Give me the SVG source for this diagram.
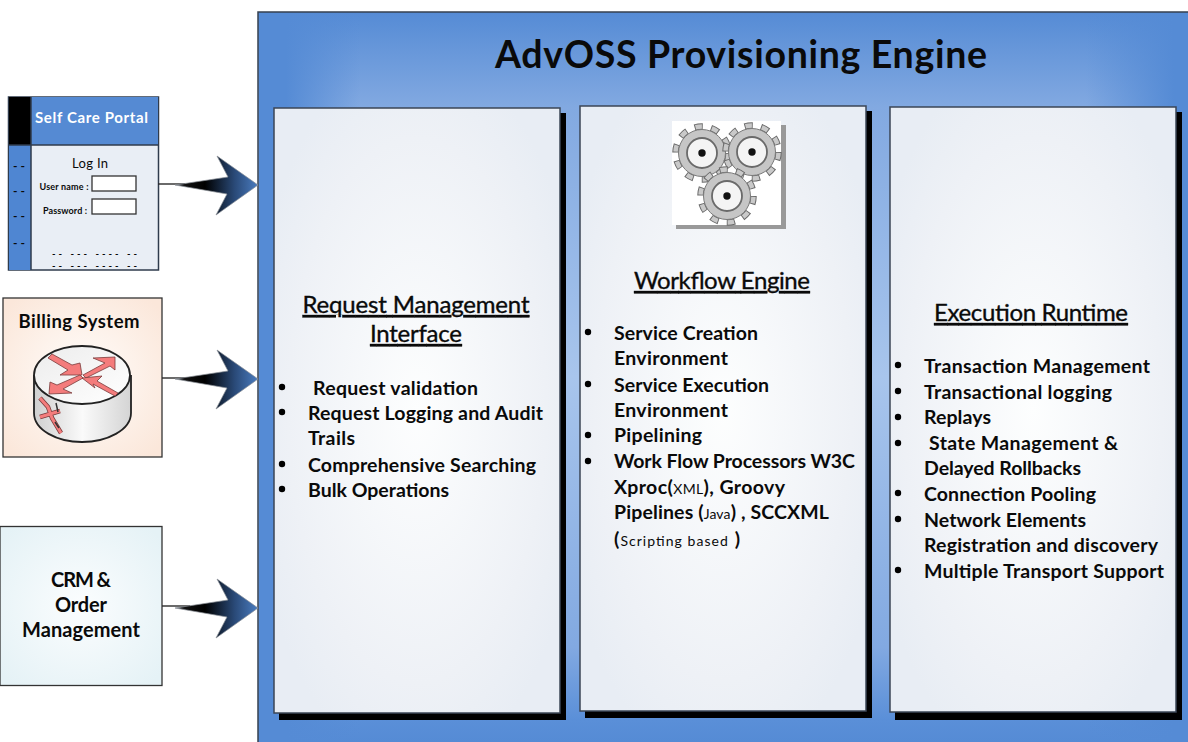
<svg xmlns="http://www.w3.org/2000/svg" width="1188" height="742" viewBox="0 0 1188 742">
<style>
text{font-family:"Lato","Liberation Sans",sans-serif;font-weight:700;fill:#0a0a0a}
.b{font-size:19.5px}
.h{font-size:24px;text-decoration:underline;text-anchor:middle;font-weight:400;stroke:#0a0a0a;stroke-width:.35}
.n{font-size:20px;text-anchor:middle}
.r{font-weight:400}
.edge{fill:none;stroke:#2f3b4c;stroke-width:1.5}
.panel{stroke:#3b4656;stroke-width:1.5}
.shadow{fill:#000}
.arrow{fill:url(#ag);stroke:#8a8f96;stroke-width:.7}
.wire{stroke:#2a2a2a;stroke-width:1.4;fill:none}
.tick{font-size:12px;font-weight:700}
.tick2{font-size:9.5px;font-weight:700}
.small{font-size:9px;text-anchor:middle;font-weight:700}
.input{fill:#fff;stroke:#333;stroke-width:1.3}
.rarrow{fill:#f47c7c;stroke:#7a3b3b;stroke-width:.8}
</style>
<defs>
<linearGradient id="outerV" gradientUnits="userSpaceOnUse" x1="0" x2="0" y1="12" y2="742"><stop offset="0" stop-color="#558bd5"/><stop offset=".13" stop-color="#82a9e1"/><stop offset=".5" stop-color="#a8c5ec"/><stop offset=".87" stop-color="#82a9e1"/><stop offset=".97" stop-color="#5a8fd8"/><stop offset="1" stop-color="#558bd5"/></linearGradient>
<linearGradient id="outerH" gradientUnits="userSpaceOnUse" x1="258" x2="1188" y1="0" y2="0"><stop offset="0" stop-color="#558bd5"/><stop offset=".03" stop-color="#558bd5"/><stop offset=".11" stop-color="#558bd5" stop-opacity="0"/><stop offset=".89" stop-color="#558bd5" stop-opacity="0"/><stop offset=".985" stop-color="#558bd5"/><stop offset="1" stop-color="#558bd5"/></linearGradient>
<radialGradient id="pg" cx=".5" cy=".5" r=".6"><stop offset="0" stop-color="#fdfefe"/><stop offset=".75" stop-color="#eef1f6"/><stop offset="1" stop-color="#e8edf4"/></radialGradient>
<radialGradient id="bill" cx=".5" cy=".5" r=".65"><stop offset="0" stop-color="#fffdfb"/><stop offset="1" stop-color="#fbe7da"/></radialGradient>
<radialGradient id="crm" cx=".5" cy=".5" r=".65"><stop offset="0" stop-color="#fbfdfe"/><stop offset="1" stop-color="#e5f2f6"/></radialGradient>
<linearGradient id="ag" x1="0" x2="1" y1="0" y2="0"><stop offset="0" stop-color="#6b7078"/><stop offset=".12" stop-color="#111"/><stop offset=".36" stop-color="#000"/><stop offset=".72" stop-color="#2a4a78"/><stop offset="1" stop-color="#4a7cc0"/></linearGradient>
<linearGradient id="cyl" x1="0" x2="1" y1="0" y2="0"><stop offset="0" stop-color="#cfcfcf"/><stop offset=".5" stop-color="#fafafa"/><stop offset="1" stop-color="#d4d4d4"/></linearGradient>
<linearGradient id="top" x1="0" x2="1" y1="0" y2="1"><stop offset="0" stop-color="#ececec"/><stop offset="1" stop-color="#fff"/></linearGradient>
<path id="arrowShape" class="arrow" d="M175 0 L228 -8 L217 -29 L258 0 L216 30 L227 9 Z"/>
<g id="gear">
<circle r="26.500" fill="none" stroke="#6a6a6a" stroke-width="6.500" stroke-dasharray="8.300 8.350"/>
<circle r="26.500" fill="none" stroke="#c9c9c9" stroke-width="4.500" stroke-dasharray="6.500 10.150" stroke-dashoffset="-.9"/>
<circle r="23.500" fill="#c6c6c6" stroke="#7a7a7a" stroke-width="1"/>
<circle r="15" fill="#f4f4f4" stroke="#6a6a6a" stroke-width="1.800"/>
<circle r="3.700" fill="#111"/>
</g>
</defs>

<g id="engine">
<rect x="258" y="12" width="940" height="740" fill="url(#outerV)" stroke="#36404f" stroke-width="1.500"/>
<rect x="259" y="13" width="929" height="729" fill="url(#outerH)"/>
<text x="741" y="68" style="font-size:37.500px;text-anchor:middle" textLength="492">AdvOSS Provisioning Engine</text>
</g>

<g id="request-management">
<rect class="shadow" x="279" y="113" width="287" height="607"/>
<rect class="panel" x="274" y="108" width="286" height="605" fill="url(#pg)"/>
<text class="h" x="416" y="313" textLength="227">Request Management</text>
<text class="h" x="416" y="342" textLength="92">Interface</text>
<circle cx="282" cy="387" r="3.200"/><circle cx="282" cy="412" r="3.200"/><circle cx="282" cy="464" r="3.200"/><circle cx="282" cy="489" r="3.200"/>
<text class="b" x="313" y="395" textLength="165">Request validation</text>
<text class="b" x="308" y="420" textLength="235">Request Logging and Audit</text>
<text class="b" x="308" y="445" textLength="47">Trails</text>
<text class="b" x="308" y="472" textLength="228">Comprehensive Searching</text>
<text class="b" x="308" y="497" textLength="141">Bulk Operations</text>
</g>

<g id="workflow-engine">
<rect class="shadow" x="585" y="111" width="287" height="607"/>
<rect class="panel" x="580" y="106" width="286" height="605" fill="url(#pg)"/>
<rect x="676" y="125" width="110" height="104" fill="#999"/>
<rect x="672" y="121" width="109" height="104" fill="#fff"/>
<use href="#gear" x="702" y="153"/>
<use href="#gear" x="752" y="152"/>
<use href="#gear" x="727" y="196"/>
<text class="h" x="722" y="289" textLength="176">Workflow Engine</text>
<circle cx="588" cy="332" r="3.200"/><circle cx="588" cy="384" r="3.200"/><circle cx="588" cy="435" r="3.200"/><circle cx="588" cy="461" r="3.200"/>
<text class="b" x="614" y="340" textLength="144">Service Creation</text>
<text class="b" x="614" y="365" textLength="114">Environment</text>
<text class="b" x="614" y="392" textLength="155">Service Execution</text>
<text class="b" x="614" y="417" textLength="114">Environment</text>
<text class="b" x="614" y="442" textLength="88">Pipelining</text>
<text class="b" x="614" y="468" textLength="241">Work Flow Processors W3C</text>
<text class="b" x="614" y="494" textLength="171">Xproc(<tspan class="r" style="font-size:14px">XML</tspan>), Groovy</text>
<text class="b" x="614" y="519" textLength="215">Pipelines (<tspan class="r" style="font-size:14px">Java</tspan>) , SCCXML</text>
<text class="b" x="614" y="546" textLength="126">(<tspan class="r" style="font-size:14px">Scripting based</tspan> )</text>
</g>

<g id="execution-runtime">
<rect class="shadow" x="895" y="112" width="287" height="608"/>
<rect class="panel" x="890" y="107" width="286" height="605" fill="url(#pg)"/>
<text class="h" x="1031" y="321" textLength="194">Execution Runtime</text>
<circle cx="898" cy="365" r="3.200"/><circle cx="898" cy="391" r="3.200"/><circle cx="898" cy="417" r="3.200"/><circle cx="898" cy="443" r="3.200"/><circle cx="898" cy="493" r="3.200"/><circle cx="898" cy="519" r="3.200"/><circle cx="898" cy="570" r="3.200"/>
<text class="b" x="924" y="373" textLength="226">Transaction Management</text>
<text class="b" x="924" y="399" textLength="188">Transactional logging</text>
<text class="b" x="924" y="424" textLength="67">Replays</text>
<text class="b" x="929" y="450" textLength="189">State Management &amp;</text>
<text class="b" x="924" y="475" textLength="157">Delayed Rollbacks</text>
<text class="b" x="924" y="501" textLength="172">Connection Pooling</text>
<text class="b" x="924" y="527" textLength="162">Network Elements</text>
<text class="b" x="924" y="552" textLength="234">Registration and discovery</text>
<text class="b" x="924" y="578" textLength="240">Multiple Transport Support</text>
</g>

<g id="self-care-portal">
<rect x="8.500" y="97" width="150" height="173" fill="#e9eef5" stroke="#2f3b4c" stroke-width="1.500"/>
<rect x="9" y="97" width="22" height="48" fill="#000"/>
<rect x="31" y="97" width="127" height="48" fill="#558ad3"/>
<rect x="9" y="145" width="22" height="125" fill="#4f86d2"/>
<path class="edge" d="M9 145H158M31 97V270"/>
<text x="91.500" y="123" style="font-size:15px;fill:#fff;text-anchor:middle" textLength="113">Self Care Portal</text>
<text x="90" y="168" style="font-size:13px;text-anchor:middle;font-weight:400" textLength="36">Log In</text>
<text class="small" x="64" y="190" textLength="49">User name :</text>
<text class="small" x="65" y="214" textLength="44">Password :</text>
<rect class="input" x="92" y="176" width="44" height="15"/>
<rect class="input" x="92" y="199" width="44" height="15"/>
<text class="tick" x="13" y="170" textLength="12">--</text><text class="tick" x="13" y="195" textLength="12">--</text><text class="tick" x="13" y="220" textLength="12">--</text><text class="tick" x="13" y="247" textLength="12">--</text>
<text class="tick2" x="52" y="257" textLength="85">-- --- ---- --</text>
<text class="tick2" x="52" y="269" textLength="85">-- --- ---- --</text>
</g>

<g id="billing-system">
<rect x="3" y="298" width="159" height="159" fill="url(#bill)" stroke="#333" stroke-width="1.300"/>
<text x="79" y="328" style="font-size:18.500px;text-anchor:middle" textLength="121">Billing System</text>
<path d="M34 376V413C34 430 57 442 82 442C107 442 131 430 131 413V376Z" fill="url(#cyl)" stroke="#222" stroke-width="1.800"/>
<ellipse cx="82" cy="375" rx="48" ry="29" fill="url(#top)" stroke="#222" stroke-width="1.800"/>
<path class="rarrow" d="M48 358L52 354L72 365L80 363L82 375L60 375L68 370Z"/>
<path class="rarrow" d="M83 375L105 363L93 358L115 357L115 370L110 366L86 378Z"/>
<path class="rarrow" d="M82 378L102 376L97 381L118 393L115 396L93 384L95 388Z"/>
<path class="rarrow" d="M49 394L50 382L57 385L80 375L83 378L63 389L72 393Z"/>
<path d="M40 398L48 407L52 418L61 433M60 411L50 414L40 417" fill="none" stroke="#7a3b3b" stroke-width="4.500"/>
<path d="M40 398L48 407L52 418L61 433M60 411L50 414L40 417" fill="none" stroke="#f47c7c" stroke-width="3"/>
<path d="M56 403L58 412M55 422L59 428" stroke="#333" stroke-width="1.500" fill="none"/>
</g>

<g id="crm">
<rect x="0" y="526.500" width="162" height="159" fill="url(#crm)" stroke="#333" stroke-width="1.300"/>
<text class="n" x="81" y="587" textLength="60">CRM &amp;</text>
<text class="n" x="81" y="612" textLength="52">Order</text>
<text class="n" x="81" y="637" textLength="118">Management</text>
</g>

<g id="connectors">
<path class="wire" d="M158 184H185"/>
<path class="wire" d="M162 378H190"/>
<path class="wire" d="M162 606H190"/>
<use href="#arrowShape" x="0" y="185"/>
<use href="#arrowShape" x="0" y="379"/>
<use href="#arrowShape" x="0" y="608"/>
</g>
</svg>
